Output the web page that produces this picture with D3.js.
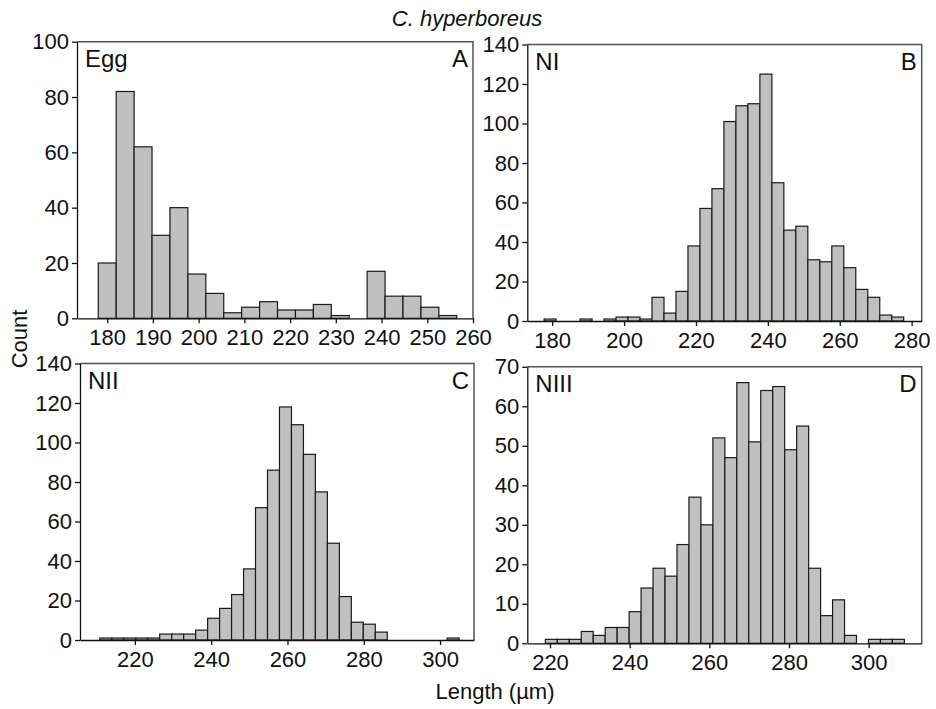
<!DOCTYPE html>
<html>
<head>
<meta charset="utf-8">
<script src="https://d3js.org/d3.v7.min.js"></script>
<style>
  body { margin: 0; background: #fff; }
  text { font-family: "Liberation Sans", Arial, sans-serif; fill: #111; }
  .bar { fill: #c0c0c0; stroke: #1a1a1a; stroke-width: 1.2px; }
  .frame { stroke: #555; stroke-width: 1.5px; fill: none; }
  .axis path, .axis line { stroke: #111; stroke-width: 1.3px; }
  .axis text { font-size: 22px; }
</style>
</head>
<body>
<svg id="chart" width="936" height="709"></svg>
<script>
// histogram counts (one value per bin)
const eggCounts = [20, 82, 62, 30, 40, 16, 9, 2, 4, 6, 3, 3, 5, 1, 0, 17, 8, 8, 4, 1];
const n1Counts = [1, 0, 0, 1, 0, 1, 2, 2, 1, 12, 4, 15, 38, 57, 67, 101, 109, 110, 125, 70,
                  46, 48, 31, 30, 38, 27, 16, 12, 3, 2];
const n2Counts = [1, 1, 1, 1, 1, 3, 3, 3, 5, 11, 16, 23, 36, 67, 86, 118, 109, 94, 75, 49,
                  22, 9, 8, 4, 0, 0, 0, 0, 0, 1];
const n3Counts = [1, 1, 1, 3, 2, 4, 4, 8, 14, 19, 17, 25, 37, 30, 52, 47, 66, 51, 64, 65,
                  49, 55, 19, 7, 11, 2, 0, 1, 1, 1];

// first bin edge and bin width (µm) of each panel
const binStart = [178.05, 177.75, 210.8, 218.83];
const binWidth = [3.92, 3.335, 3.14, 3.004];

const stageNames = ["Egg", "NI", "NII", "NIII"];
const panelLetters = ["A", "B", "C", "D"];
const xTickValues = [
  [180, 190, 200, 210, 220, 230, 240, 250, 260],
  [180, 200, 220, 240, 260, 280],
  [220, 240, 260, 280, 300],
  [220, 240, 260, 280, 300]
];
const yTickValues = [
  [0, 20, 40, 60, 80, 100],
  [0, 20, 40, 60, 80, 100, 120, 140],
  [0, 20, 40, 60, 80, 100, 120, 140],
  [0, 10, 20, 30, 40, 50, 60, 70]
];
const xDomains = [[173.4, 260], [173.07, 282.8], [205.6, 308.9], [214.3, 313.3]];
const yMax = [100, 140, 140, 70];

// panel boxes in pixels: left, top, right, bottom
const boxes = [
  { l: 77, t: 41.7, r: 473, b: 318.3 },
  { l: 527.3, t: 44.5, r: 921.7, b: 321 },
  { l: 80, t: 363.5, r: 474, b: 640 },
  { l: 527.3, t: 366.8, r: 921.7, b: 643.3 }
];

const allCounts = [eggCounts, n1Counts, n2Counts, n3Counts];
const svg = d3.select("#chart");

allCounts.forEach((counts, i) => {
  const box = boxes[i];
  const x = d3.scaleLinear().domain(xDomains[i]).range([box.l, box.r]);
  const y = d3.scaleLinear().domain([0, yMax[i]]).range([box.b, box.t]);
  const g = svg.append("g");

  // bins as objects so every bar goes through the scales
  const bins = counts.map((c, k) => ({
    x0: binStart[i] + k * binWidth[i],
    x1: binStart[i] + (k + 1) * binWidth[i],
    count: c
  })).filter(d => d.count > 0);

  g.selectAll("rect.bar").data(bins)
    .join("rect")
    .attr("class", "bar")
    .attr("x", d => x(d.x0))
    .attr("width", d => x(d.x1) - x(d.x0))
    .attr("y", d => y(d.count))
    .attr("height", d => y(0) - y(d.count));

  // top and right sides of the box
  g.append("path")
    .attr("class", "frame")
    .attr("d", `M${box.l},${box.t}H${box.r}V${box.b}`);

  g.append("g")
    .attr("class", "axis")
    .attr("transform", `translate(0,${box.b})`)
    .call(d3.axisBottom(x).tickValues(xTickValues[i]).tickSize(5).tickSizeOuter(0).tickPadding(6));

  g.append("g")
    .attr("class", "axis")
    .attr("transform", `translate(${box.l},0)`)
    .call(d3.axisLeft(y).tickValues(yTickValues[i]).tickSize(5).tickSizeOuter(0).tickPadding(3));

  g.selectAll(".axis text").attr("font-family", null);

  g.append("text")
    .attr("x", box.l + 8)
    .attr("y", box.t + 25)
    .style("font-size", "24px")
    .text(stageNames[i]);

  g.append("text")
    .attr("x", box.r - 5)
    .attr("y", box.t + 25)
    .attr("text-anchor", "end")
    .style("font-size", "24px")
    .text(panelLetters[i]);
});

svg.append("text")
  .attr("x", 467)
  .attr("y", 26)
  .attr("text-anchor", "middle")
  .style("font-size", "22px")
  .style("font-style", "italic")
  .text("C. hyperboreus");

svg.append("text")
  .attr("transform", "translate(27,339) rotate(-90)")
  .attr("text-anchor", "middle")
  .style("font-size", "22px")
  .text("Count");

svg.append("text")
  .attr("x", 495)
  .attr("y", 699)
  .attr("text-anchor", "middle")
  .style("font-size", "22px")
  .text("Length (µm)");
</script>
</body>
</html>
